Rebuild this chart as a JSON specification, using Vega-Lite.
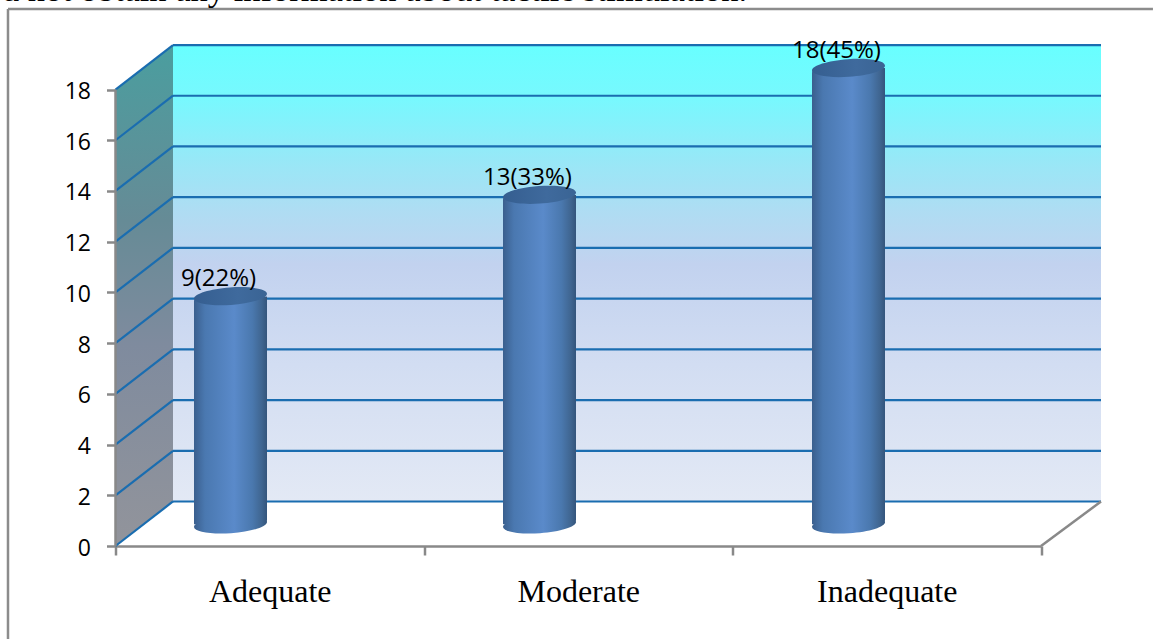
{
  "$schema": "https://vega.github.io/schema/vega-lite/v6.json",
  "width": 985.5,
  "height": 501,
  "autosize": {"type": "none"},
  "padding": {"left": 115.5, "top": 45, "right": 52, "bottom": 93},
  "background": "white",
  "view": {"stroke": null},
  "datasets": {
    "counts": [
      {"level": "Adequate", "count": 9, "label": "9(22%)"},
      {"level": "Moderate", "count": 13, "label": "13(33%)"},
      {"level": "Inadequate", "count": 18, "label": "18(45%)"}
    ],
    "backWall": [{"left": 0.1865, "right": 3.1965, "low": 1.755, "high": 19.755}],
    "sideWall": [
      {"pos": 0, "low": 0, "high": 18},
      {"pos": 0.1865, "low": 1.755, "high": 19.755}
    ],
    "gridBack": [
      {"left": 0.1865, "right": 3.1965, "y": 1.755},
      {"left": 0.1865, "right": 3.1965, "y": 3.755},
      {"left": 0.1865, "right": 3.1965, "y": 5.755},
      {"left": 0.1865, "right": 3.1965, "y": 7.755},
      {"left": 0.1865, "right": 3.1965, "y": 9.755},
      {"left": 0.1865, "right": 3.1965, "y": 11.755},
      {"left": 0.1865, "right": 3.1965, "y": 13.755},
      {"left": 0.1865, "right": 3.1965, "y": 15.755},
      {"left": 0.1865, "right": 3.1965, "y": 17.755},
      {"left": 0.1865, "right": 3.1965, "y": 19.755}
    ],
    "gridSide": [
      {"front": 0, "back": 0.1865, "y": 0, "y2": 1.755},
      {"front": 0, "back": 0.1865, "y": 2, "y2": 3.755},
      {"front": 0, "back": 0.1865, "y": 4, "y2": 5.755},
      {"front": 0, "back": 0.1865, "y": 6, "y2": 7.755},
      {"front": 0, "back": 0.1865, "y": 8, "y2": 9.755},
      {"front": 0, "back": 0.1865, "y": 10, "y2": 11.755},
      {"front": 0, "back": 0.1865, "y": 12, "y2": 13.755},
      {"front": 0, "back": 0.1865, "y": 14, "y2": 15.755},
      {"front": 0, "back": 0.1865, "y": 16, "y2": 17.755},
      {"front": 0, "back": 0.1865, "y": 18, "y2": 19.755}
    ],
    "floorEdges": [
      {"x": 0, "x2": 0, "y": 0, "y2": 18},
      {"x": 3.002, "x2": 3.1965, "y": 0, "y2": 1.755}
    ],
    "frame": [
      {"x": -0.3487, "x2": -0.3487, "y": -3.667, "y2": 21.175},
      {"x": -0.3487, "x2": 3.365, "y": 21.175, "y2": 21.175}
    ],
    "caption": [{"x": 2.049, "y": 21.5, "text": "d not obtain any information about tactile stimulation."}]
  },
  "resolve": {"scale": {"x": "independent", "y": "independent"}},
  "layer": [
    {
      "data": {"name": "backWall"},
      "mark": {
        "type": "rect",
        "fill": {
          "gradient": "linear", "x1": 0, "y1": 0, "x2": 0, "y2": 1,
          "stops": [
            {"offset": 0, "color": "#68FFFF"},
            {"offset": 0.12, "color": "#78F8FE"},
            {"offset": 0.25, "color": "#97E8F7"},
            {"offset": 0.36, "color": "#AEDDF3"},
            {"offset": 0.48, "color": "#C2D2EF"},
            {"offset": 0.7, "color": "#D2DDF2"},
            {"offset": 1, "color": "#E3E9F5"}
          ]
        }
      },
      "encoding": {
        "x": {"field": "left", "type": "quantitative", "scale": {"domain": [0, 3.1965], "nice": false, "zero": false}, "axis": null},
        "x2": {"field": "right"},
        "y": {"field": "low", "type": "quantitative", "scale": {"domain": [0, 19.756], "nice": false, "zero": false}, "axis": null},
        "y2": {"field": "high"}
      }
    },
    {
      "data": {"name": "sideWall"},
      "mark": {
        "type": "area",
        "fill": {
          "gradient": "linear", "x1": 0, "y1": 0, "x2": 0, "y2": 1,
          "stops": [
            {"offset": 0, "color": "#4A9E9F"},
            {"offset": 0.35, "color": "#668B96"},
            {"offset": 0.6, "color": "#7F8B9E"},
            {"offset": 1, "color": "#92949B"}
          ]
        }
      },
      "encoding": {
        "x": {"field": "pos", "type": "quantitative", "scale": {"domain": [0, 3.1965], "nice": false, "zero": false}, "axis": null},
        "y": {"field": "low", "type": "quantitative", "scale": {"domain": [0, 19.756], "nice": false, "zero": false}, "axis": null},
        "y2": {"field": "high"}
      }
    },
    {
      "data": {"name": "gridBack"},
      "mark": {"type": "rule", "color": "#1A6DB0", "strokeWidth": 2.2},
      "encoding": {
        "x": {"field": "left", "type": "quantitative", "scale": {"domain": [0, 3.1965], "nice": false, "zero": false}, "axis": null},
        "x2": {"field": "right"},
        "y": {"field": "y", "type": "quantitative", "scale": {"domain": [0, 19.756], "nice": false, "zero": false}, "axis": null}
      }
    },
    {
      "data": {"name": "gridSide"},
      "mark": {"type": "rule", "color": "#1A6DB0", "strokeWidth": 2.2},
      "encoding": {
        "x": {"field": "front", "type": "quantitative", "scale": {"domain": [0, 3.1965], "nice": false, "zero": false}, "axis": null},
        "x2": {"field": "back"},
        "y": {"field": "y", "type": "quantitative", "scale": {"domain": [0, 19.756], "nice": false, "zero": false}, "axis": null},
        "y2": {"field": "y2"}
      }
    },
    {
      "data": {"name": "floorEdges"},
      "mark": {"type": "rule", "color": "#898989", "strokeWidth": 2.5},
      "encoding": {
        "x": {"field": "x", "type": "quantitative", "scale": {"domain": [0, 3.1965], "nice": false, "zero": false}, "axis": null},
        "x2": {"field": "x2"},
        "y": {"field": "y", "type": "quantitative", "scale": {"domain": [0, 19.756], "nice": false, "zero": false}, "axis": null},
        "y2": {"field": "y2"}
      }
    },
    {
      "data": {"name": "frame"},
      "mark": {"type": "rule", "color": "#8C8C8C", "strokeWidth": 2.5},
      "encoding": {
        "x": {"field": "x", "type": "quantitative", "scale": {"domain": [0, 3.1965], "nice": false, "zero": false}, "axis": null},
        "x2": {"field": "x2"},
        "y": {"field": "y", "type": "quantitative", "scale": {"domain": [0, 19.756], "nice": false, "zero": false}, "axis": null},
        "y2": {"field": "y2"}
      }
    },
    {
      "data": {"name": "caption"},
      "mark": {"type": "text", "font": "Liberation Serif", "fontSize": 34.5, "align": "right", "baseline": "alphabetic", "color": "#000000"},
      "encoding": {
        "x": {"field": "x", "type": "quantitative", "scale": {"domain": [0, 3.1965], "nice": false, "zero": false}, "axis": null},
        "y": {"field": "y", "type": "quantitative", "scale": {"domain": [0, 19.756], "nice": false, "zero": false}, "axis": null},
        "text": {"field": "text"}
      }
    },
    {
      "data": {"name": "counts"},
      "mark": {"type": "tick", "opacity": 0},
      "encoding": {
        "x": {
          "field": "level", "type": "nominal", "sort": null,
          "scale": {"range": [0, 925.5], "paddingInner": 0, "paddingOuter": 0},
          "axis": {
            "title": null, "orient": "bottom", "tickBand": "extent", "tickSize": 9, "tickWidth": 2.5, "tickColor": "#898989",
            "domainColor": "#898989", "domainWidth": 2.5, "labelAngle": 0, "labelFont": "Liberation Serif", "labelFontSize": 32,
            "labelColor": "#000000", "labelPadding": 21, "grid": false
          }
        },
        "y": {
          "field": "count", "type": "quantitative",
          "scale": {"domain": [0, 19.756], "nice": false, "zero": false},
          "axis": {
            "title": null, "orient": "left", "values": [0, 2, 4, 6, 8, 10, 12, 14, 16, 18], "tickSize": 9, "tickWidth": 2.5, "tickColor": "#898989",
            "domain": false, "labelFont": "Open Sans", "labelFontSize": 23, "labelColor": "#000000", "labelPadding": 16, "labelOffset": 2, "grid": false
          }
        }
      }
    },
    {
      "data": {"name": "counts"},
      "mark": {
        "type": "point", "filled": true, "size": 5329, "opacity": 1,
        "shape": "M-1,0.07 A1,0.24 -4 1 1 1,-0.07 A1,0.24 -4 1 1 -1,0.07 Z",
        "fill": {
          "gradient": "linear", "x1": 0, "y1": 0, "x2": 1, "y2": 0,
          "stops": [
            {"offset": 0, "color": "#3A5F8E"},
            {"offset": 0.15, "color": "#4A78B0"},
            {"offset": 0.55, "color": "#5A8ACA"},
            {"offset": 0.8, "color": "#4A78AE"},
            {"offset": 0.93, "color": "#3F6590"},
            {"offset": 1, "color": "#34557C"}
          ]
        }
      },
      "encoding": {
        "x": {"field": "level", "type": "nominal", "sort": null, "scale": {"range": [-39.5, 887.5], "paddingInner": 0, "paddingOuter": 0}, "axis": null},
        "y": {"datum": 0, "type": "quantitative", "scale": {"domain": [-0.849, 18.907], "nice": false, "zero": false}, "axis": null}
      }
    },
    {
      "data": {"name": "counts"},
      "mark": {
        "type": "bar", "width": 73, "cornerRadiusTopLeft": 5, "cornerRadiusBottomRight": 5,
        "fill": {
          "gradient": "linear", "x1": 0, "y1": 0, "x2": 1, "y2": 0,
          "stops": [
            {"offset": 0, "color": "#3A5F8E"},
            {"offset": 0.15, "color": "#4A78B0"},
            {"offset": 0.55, "color": "#5A8ACA"},
            {"offset": 0.8, "color": "#4A78AE"},
            {"offset": 0.93, "color": "#3F6590"},
            {"offset": 1, "color": "#34557C"}
          ]
        }
      },
      "encoding": {
        "x": {"field": "level", "type": "nominal", "sort": null, "scale": {"range": [-39.5, 887.5], "paddingInner": 0, "paddingOuter": 0}, "axis": null},
        "y": {"field": "count", "type": "quantitative", "scale": {"domain": [-0.849, 18.907], "nice": false, "zero": false}, "axis": null}
      }
    },
    {
      "data": {"name": "counts"},
      "mark": {
        "type": "point", "filled": true, "size": 5329, "opacity": 1,
        "shape": "M-1,0.07 A1,0.24 -4 1 1 1,-0.07 A1,0.24 -4 1 1 -1,0.07 Z",
        "fill": {
          "gradient": "linear", "x1": 0, "y1": 0, "x2": 1, "y2": 0,
          "stops": [
            {"offset": 0, "color": "#355E90"},
            {"offset": 0.6, "color": "#3F6A9D"},
            {"offset": 1, "color": "#3A6494"}
          ]
        }
      },
      "encoding": {
        "x": {"field": "level", "type": "nominal", "sort": null, "scale": {"range": [-39.5, 887.5], "paddingInner": 0, "paddingOuter": 0}, "axis": null},
        "y": {"field": "count", "type": "quantitative", "scale": {"domain": [-0.849, 18.907], "nice": false, "zero": false}, "axis": null}
      }
    },
    {
      "data": {"name": "counts"},
      "mark": {"type": "text", "font": "Open Sans", "fontSize": 24, "color": "#000000", "dx": -12, "dy": -17},
      "encoding": {
        "x": {"field": "level", "type": "nominal", "sort": null, "scale": {"range": [-39.5, 887.5], "paddingInner": 0, "paddingOuter": 0}, "axis": null},
        "y": {"field": "count", "type": "quantitative", "scale": {"domain": [-0.849, 18.907], "nice": false, "zero": false}, "axis": null},
        "text": {"field": "label"}
      }
    }
  ]
}
